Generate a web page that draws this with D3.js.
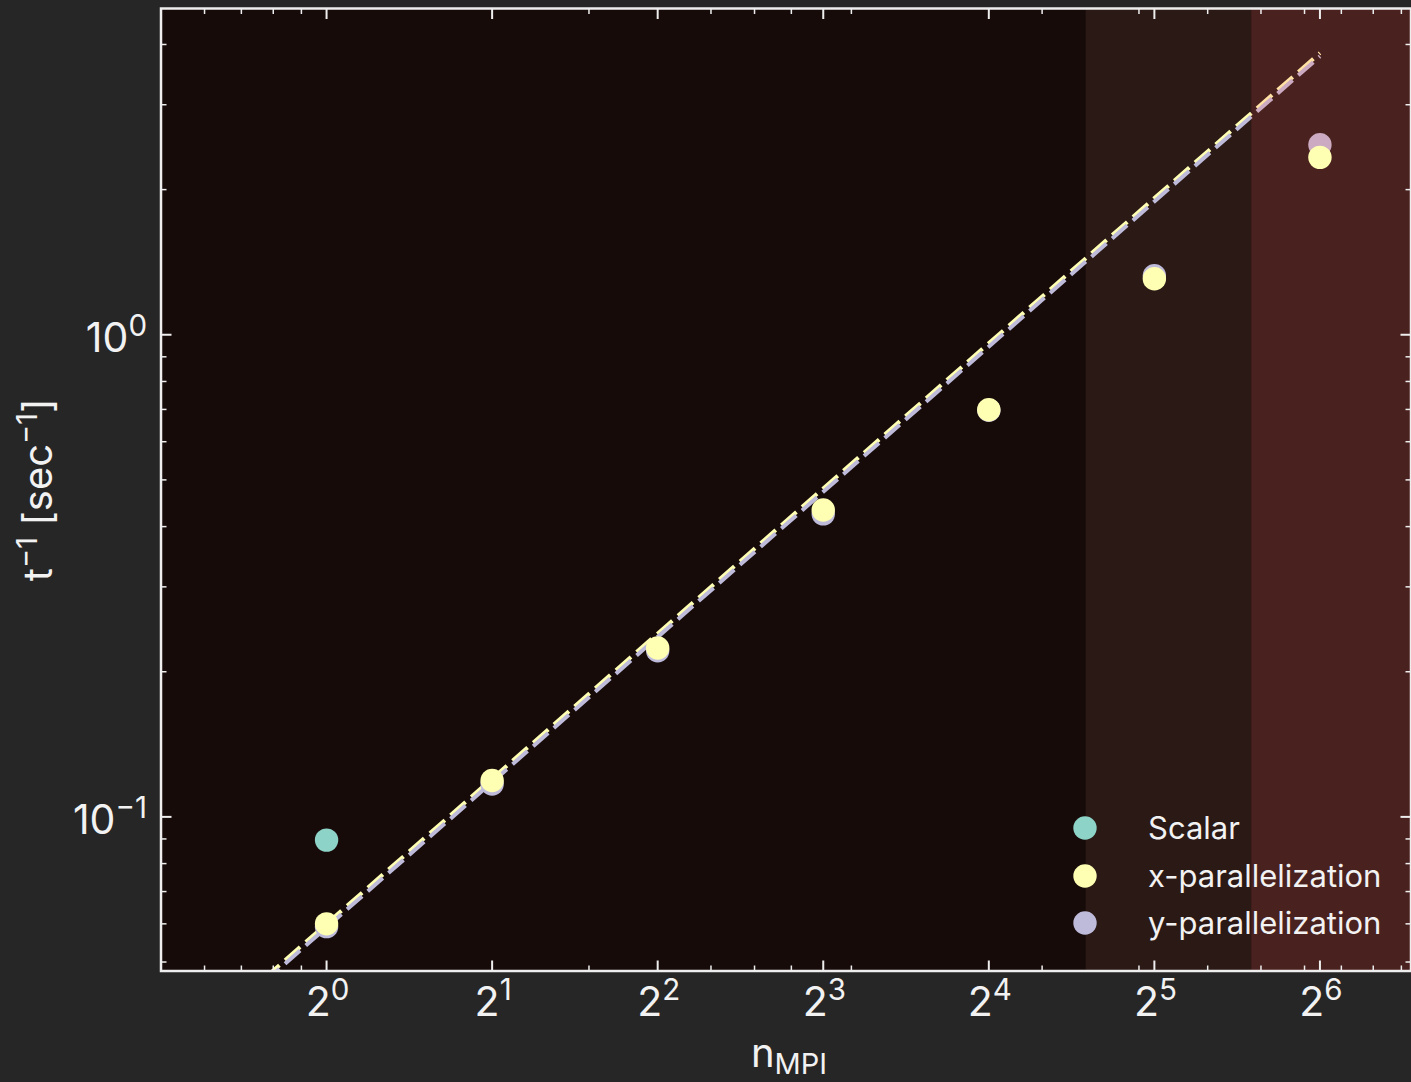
<!DOCTYPE html>
<html><head><meta charset="utf-8">
<script src="https://cdn.jsdelivr.net/npm/d3@7"></script>
<style>
html,body{margin:0;padding:0;background:#262626;overflow:hidden;}
svg{display:block;}
text{font-family:Inter,"Noto Sans",sans-serif;fill:#f2f2f2;}
</style></head>
<body><svg id="c" width="1411" height="1082"></svg>
<script>
// ---- data ----
const nMPI = [1, 2, 4, 8, 16, 32, 64];
const scalarN = [1];
const scalarVals = [0.0895];
const xParVals = [0.0600, 0.119, 0.224, 0.433, 0.699, 1.307, 2.333];
const yParVals = [0.0592, 0.117, 0.221, 0.425, 0.697, 1.326, 2.478];
const idealN = [0.5, 64];
const xIdeal = [0.0300, 3.84];
const yIdeal = [0.0295, 3.78];
const spanEdges = [24, 48, 128];
const xMajorExp = [0, 1, 2, 3, 4, 5, 6];
const xMinor = [0.6, 0.7, 0.8, 0.9, 3, 5, 6, 7, 9, 20, 30, 40, 50, 60, 70, 80, 90];
const yMajorExp = [-1, 0];
const yMinor = [0.05, 0.06, 0.07, 0.08, 0.09, 0.2, 0.3, 0.4, 0.5, 0.6, 0.7, 0.8, 0.9, 2, 3, 4];
const legendLabels = ["Scalar", "x-parallelization", "y-parallelization"];
const colors = ["#8dd3c7", "#ffffb3", "#bebada"];

// ---- layout ----
const L = 161, R = 1411, T = 8.5, B = 971;
const svg = d3.select("#c");
const x = d3.scaleLog().base(2).domain([0.5, Math.pow(2, 6.55)]).range([L, R]);
const y = d3.scaleLog().domain([0.0479, 4.75]).range([B, T]);

svg.append("rect").attr("width", 1411).attr("height", 1082).attr("fill", "#262626");
svg.append("rect").attr("x", L).attr("y", T).attr("width", R - L).attr("height", B - T).attr("fill", "#170b0a");

svg.append("defs").append("clipPath").attr("id", "clip")
  .append("rect").attr("x", L).attr("y", T).attr("width", R - L).attr("height", B - T);
const g = svg.append("g").attr("clip-path", "url(#clip)");

// span 1
g.append("rect").attr("x", x(spanEdges[0])).attr("y", T)
  .attr("width", x(spanEdges[1]) - x(spanEdges[0])).attr("height", B - T)
  .attr("fill", "rgb(213,161,130)").attr("fill-opacity", 0.1);

// ideal lines
const line = d3.line().x(d => x(d[0])).y(d => y(d[1]));
g.append("path").datum(idealN.map((n, i) => [n, xIdeal[i]])).attr("d", line)
  .attr("fill", "none").attr("stroke", colors[1]).attr("stroke-width", 4).attr("stroke-dasharray", "20,7.5");
g.append("path").datum(idealN.map((n, i) => [n, yIdeal[i]])).attr("d", line)
  .attr("fill", "none").attr("stroke", colors[2]).attr("stroke-width", 4).attr("stroke-dasharray", "20,7.5");

// y-parallelization points
g.selectAll(".yp").data(nMPI).enter().append("circle")
  .attr("cx", d => x(d)).attr("cy", (d, i) => y(yParVals[i])).attr("r", 11.7).attr("fill", colors[2]);

// span 2 overlay
g.append("rect").attr("x", x(spanEdges[1])).attr("y", T)
  .attr("width", x(spanEdges[2]) - x(spanEdges[1])).attr("height", B - T)
  .attr("fill", "rgb(255,118,108)").attr("fill-opacity", 0.215);

// x-parallelization points
g.selectAll(".xp").data(nMPI).enter().append("circle")
  .attr("cx", d => x(d)).attr("cy", (d, i) => y(xParVals[i])).attr("r", 11.7).attr("fill", colors[1]);
// scalar
g.selectAll(".sc").data(scalarN).enter().append("circle")
  .attr("cx", d => x(d)).attr("cy", (d, i) => y(scalarVals[i])).attr("r", 11.7).attr("fill", colors[0]);

// ---- ticks ----
const tickCol = "#eeeeee";
const tg = svg.append("g").attr("stroke", tickCol);
xMajorExp.forEach(e => {
  const px = x(Math.pow(2, e));
  tg.append("line").attr("x1", px).attr("x2", px).attr("y1", B).attr("y2", B - 10.5).attr("stroke-width", 2);
  tg.append("line").attr("x1", px).attr("x2", px).attr("y1", T).attr("y2", T + 10.5).attr("stroke-width", 2);
});
xMinor.forEach(v => {
  const px = x(v);
  tg.append("line").attr("x1", px).attr("x2", px).attr("y1", B).attr("y2", B - 5.5).attr("stroke-width", 1.5);
  tg.append("line").attr("x1", px).attr("x2", px).attr("y1", T).attr("y2", T + 5.5).attr("stroke-width", 1.5);
});
yMajorExp.forEach(e => {
  const py = y(Math.pow(10, e));
  tg.append("line").attr("x1", L).attr("x2", L + 10.5).attr("y1", py).attr("y2", py).attr("stroke-width", 2);
  tg.append("line").attr("x1", R).attr("x2", R - 10.5).attr("y1", py).attr("y2", py).attr("stroke-width", 2);
});
yMinor.forEach(v => {
  const py = y(v);
  tg.append("line").attr("x1", L).attr("x2", L + 5.5).attr("y1", py).attr("y2", py).attr("stroke-width", 1.5);
  tg.append("line").attr("x1", R).attr("x2", R - 5.5).attr("y1", py).attr("y2", py).attr("stroke-width", 1.5);
});

// spines
svg.append("rect").attr("x", L).attr("y", T).attr("width", R - L).attr("height", B - T)
  .attr("fill", "none").attr("stroke", tickCol).attr("stroke-width", 2.5);

// ---- tick labels ----
const fs = 41;
xMajorExp.forEach(e => {
  const t = svg.append("text").attr("x", x(Math.pow(2, e)) + 1).attr("y", 1016)
    .attr("text-anchor", "middle").attr("font-size", fs);
  t.append("tspan").text("2");
  t.append("tspan").attr("dy", -16).attr("font-size", fs * 0.72).text(String(e));
});
yMajorExp.forEach(e => {
  const t = svg.append("text").attr("x", 147).attr("y", y(Math.pow(10, e)) + 17)
    .attr("text-anchor", "end").attr("font-size", fs);
  t.append("tspan").text("10");
  t.append("tspan").attr("dy", -16).attr("font-size", fs * 0.72).text(e < 0 ? "\u2212" + Math.abs(e) : String(e));
});

// ---- axis labels ----
const xl = svg.append("text").attr("x", (L + R) / 2 + 3).attr("y", 1067).attr("text-anchor", "middle").attr("font-size", 40);
xl.append("tspan").text("n");
xl.append("tspan").attr("dy", 7).attr("font-size", 29).text("MPI");

const yl = svg.append("text").attr("transform", `translate(52,${(T + B) / 2}) rotate(-90)`)
  .attr("text-anchor", "middle").attr("font-size", 40);
yl.append("tspan").text("t");
yl.append("tspan").attr("dy", -15).attr("font-size", 29).text("\u22121");
yl.append("tspan").attr("dy", 15).text(" [sec");
yl.append("tspan").attr("dy", -15).attr("font-size", 29).text("\u22121");
yl.append("tspan").attr("dy", 15).text("]");

// ---- legend ----
const legY = [828, 876, 923];
legendLabels.forEach((lab, i) => {
  svg.append("circle").attr("cx", 1085).attr("cy", legY[i]).attr("r", 11.7).attr("fill", colors[i]);
  svg.append("text").attr("x", 1148).attr("y", legY[i] + 11).attr("font-size", 31).text(lab);
});
</script></body></html>
